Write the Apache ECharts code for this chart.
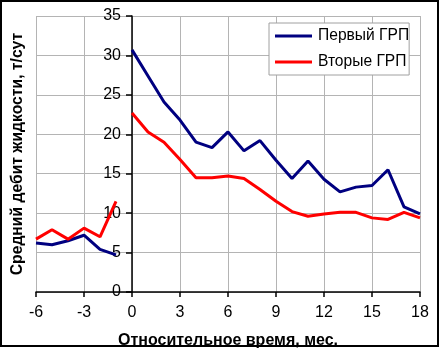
<!DOCTYPE html>
<html>
<head>
<meta charset="utf-8">
<script src="https://cdn.jsdelivr.net/npm/echarts@6/dist/echarts.min.js"></script>
<style>
html,body{margin:0;padding:0;background:#fff;}
#c{width:441px;height:349px;}
</style>
</head>
<body>
<div id="c"></div>
<script>
// Data
var monthsBefore = [-6, -5, -4, -3, -2, -1];
var monthsAfter = [0, 1, 2, 3, 4, 5, 6, 7, 8, 9, 10, 11, 12, 13, 14, 15, 16, 17, 18];
var firstBefore = [6.2, 6.0, 6.5, 7.2, 5.4, 4.7];
var secondBefore = [6.7, 7.9, 6.7, 8.1, 7.0, 11.5];
var firstAfter = [30.7, 27.4, 24.1, 21.8, 19.0, 18.3, 20.3, 17.9, 19.2, 16.7, 14.4, 16.6, 14.3, 12.7, 13.3, 13.5, 15.5, 10.8, 9.9];
var secondAfter = [22.7, 20.3, 19.0, 16.8, 14.5, 14.5, 14.7, 14.4, 13.0, 11.5, 10.2, 9.6, 9.9, 10.1, 10.1, 9.4, 9.2, 10.1, 9.4];
var seriesNames = ['Первый ГРП', 'Вторые ГРП'];
var xTitle = 'Относительное время, мес.';
var yTitle = 'Средний дебит жидкости, т/сут';

function pairs(xs, ys) { return xs.map(function (x, i) { return [x, ys[i]]; }); }

var FONT = '"Liberation Sans", Arial, sans-serif';
var BLUE = '#000080', RED = '#ff0000';

function lineSeries(name, color, data) {
  return {
    name: name, type: 'line', data: data, symbol: 'none',
    lineStyle: { color: color, width: 3 }, itemStyle: { color: color },
    animation: false, z: 3
  };
}

var GRID_LEFT = 36, GRID_WIDTH = 384, X_MIN = -6, X_MAX = 18;
// the vertical axis crosses the horizontal one at x = 0
var yAxisShift = GRID_WIDTH * (0 - X_MIN) / (X_MAX - X_MIN);

var chart = echarts.init(document.getElementById('c'), null, { renderer: 'canvas' });
chart.setOption({
  animation: false,
  backgroundColor: '#fff',
  textStyle: { fontFamily: FONT },
  graphic: [{
    type: 'rect', shape: { x: 1, y: 1, width: 437, height: 345 },
    style: { fill: 'none', stroke: '#000', lineWidth: 2 }, z: 100
  }],
  grid: { left: GRID_LEFT, top: 16, width: GRID_WIDTH, height: 276, containLabel: false, outerBoundsMode: 'none' },
  legend: {
    orient: 'vertical', left: 269, top: 23,
    padding: [5, 0, 5, 6], itemGap: 10,
    itemWidth: 37, itemHeight: 3, icon: 'rect',
    backgroundColor: '#fff', borderColor: '#a0a0a0', borderWidth: 1,
    textStyle: { fontFamily: FONT, fontSize: 15.6, color: '#000', padding: [0, 0, 0, 1] },
    data: seriesNames
  },
  xAxis: {
    type: 'value', min: X_MIN, max: X_MAX, interval: 3,
    name: xTitle, nameLocation: 'middle', nameGap: 41, nameMoveOverlap: false,
    nameTextStyle: { fontFamily: FONT, fontSize: 16, fontWeight: 'bold', color: '#000' },
    axisLine: { onZero: false, lineStyle: { color: '#000', width: 1.5 } },
    axisTick: { show: true, length: 5, lineStyle: { color: '#000', width: 1.5 } },
    axisLabel: { fontFamily: FONT, fontSize: 16, color: '#000', margin: 13 },
    splitLine: { show: true, lineStyle: { color: '#b4b4b4', width: 1 } }
  },
  yAxis: {
    type: 'value', min: 0, max: 35, interval: 5,
    offset: -yAxisShift,
    name: yTitle, nameLocation: 'middle', nameGap: 106, nameRotate: 90, nameMoveOverlap: false,
    nameTextStyle: { fontFamily: FONT, fontSize: 15.7, fontWeight: 'bold', color: '#000' },
    axisLine: { show: true, onZero: false, lineStyle: { color: '#000', width: 1.5 } },
    axisTick: { show: true, length: 6, lineStyle: { color: '#000', width: 1.5 } },
    axisLabel: { fontFamily: FONT, fontSize: 16, color: '#000', margin: 11 },
    splitLine: { show: true, lineStyle: { color: '#b4b4b4', width: 1 } }
  },
  series: [
    lineSeries(seriesNames[0], BLUE, pairs(monthsBefore, firstBefore)),
    lineSeries(seriesNames[0], BLUE, pairs(monthsAfter, firstAfter)),
    lineSeries(seriesNames[1], RED, pairs(monthsBefore, secondBefore)),
    lineSeries(seriesNames[1], RED, pairs(monthsAfter, secondAfter))
  ]
});
</script>
</body>
</html>
